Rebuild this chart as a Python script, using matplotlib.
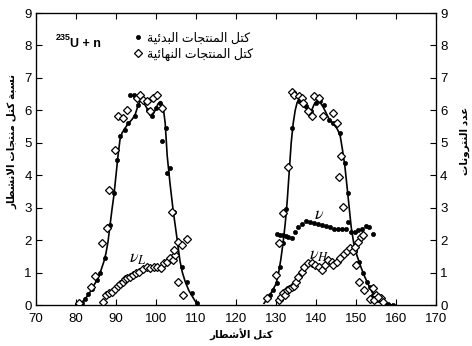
import matplotlib
matplotlib.use("Agg")
import matplotlib.pyplot as plt

plt.rcParams['font.family'] = ['Liberation Sans', 'DejaVu Sans']

# ---------------- data ----------------
# light fragment: primary (pre-neutron) masses, filled dots
x_pl = [80.2, 81.4, 82.25, 83.1, 83.9, 85.2, 86.0, 87.25, 88.5, 89.6, 90.3, 91.0, 92.25, 93.1,
        93.4, 94.5, 94.75, 95.6, 96.8, 98.1, 98.9, 100.1, 101.0, 101.8, 101.4, 102.4, 102.7,
        103.5, 104.6, 105.6, 106.6, 107.7, 108.9, 110.2]
y_pl = [0.0, 0.05, 0.2, 0.33, 0.49, 0.77, 0.98, 1.44, 2.47, 3.45, 4.48, 5.2, 5.4, 5.6,
        6.48, 6.48, 5.81, 6.17, 6.33, 6.02, 5.81, 6.07, 6.22, 6.07, 5.04, 5.45, 4.06,
        4.22, 2.88, 1.95, 1.18, 0.72, 0.36, 0.05]
# light fragment: final (post-neutron) masses, open diamonds
x_fl = [80.8, 83.7, 84.75, 86.6, 87.7, 88.3, 89.75, 90.6, 91.8, 92.7, 95.2, 96.0, 96.8, 97.7,
        98.5, 99.3, 100.3, 101.4, 103.9, 105.6, 106.6, 107.7, 105.6, 106.8]
y_fl = [0.05, 0.55, 0.9, 1.9, 2.37, 3.55, 4.78, 5.81, 5.76, 6.02, 6.38, 6.48, 6.33, 6.28,
        5.97, 6.38, 6.46, 6.07, 2.86, 1.95, 1.85, 2.04, 0.72, 0.31]
# nu_L, open diamonds
x_vl = [86.7, 87.5, 88.2, 88.9, 89.75, 90.6, 91.0, 91.7, 92.25, 92.8, 93.5, 94.3, 94.9, 95.75,
        96.8, 97.7, 98.5, 99.6, 100.3, 101.25, 102.1, 102.7, 103.5, 104.2, 104.75, 104.6]
y_vl = [0.08, 0.3, 0.36, 0.41, 0.49, 0.58, 0.65, 0.72, 0.8, 0.84, 0.87, 0.93, 0.98, 1.03,
        1.11, 1.18, 1.15, 1.18, 1.18, 1.15, 1.29, 1.34, 1.44, 1.39, 1.54, 1.7]
# light fitted curve
xc_l = [80.0, 81, 82, 83, 84, 85, 86, 87, 87.5, 88, 88.5, 89, 89.5, 90, 90.5, 91, 91.5, 92.25,
        93, 94, 94.75, 95.5, 96.2, 97, 97.8, 98.5, 99, 99.8, 100.5, 101.2, 101.8, 102.3, 102.8,
        103.5, 104.3, 105.2, 106, 106.6, 107.3, 108.2, 109, 110.2, 110.5]
yc_l = [0.0, 0.04, 0.15, 0.3, 0.5, 0.72, 0.98, 1.35, 1.6, 1.95, 2.45, 2.95, 3.4, 4.0, 4.6, 5.1,
        5.3, 5.45, 5.58, 5.72, 5.85, 6.15, 6.33, 6.22, 6.05, 5.85, 5.82, 6.0, 6.2, 6.27, 6.1,
        5.6, 4.6, 3.75, 2.9, 2.1, 1.35, 1.0, 0.72, 0.45, 0.28, 0.04, 0.0]

# heavy fragment: primary masses, filled dots
x_pr = [127.7, 128.5, 129.3, 130.2, 131.0, 131.8, 132.6, 134.1, 135.8, 137.5, 138.75, 140.0,
        141.0, 142.1, 143.3, 144.3, 146.0, 147.25, 148.1, 149.75, 150.8, 151.8, 152.7, 153.5,
        154.3, 155.6, 156.8, 158.1, 159.3]
y_pr = [0.2, 0.31, 0.46, 0.67, 1.18, 1.9, 2.95, 5.45, 6.28, 6.12, 5.97, 6.22, 6.3, 6.17, 5.71,
        5.6, 5.3, 4.37, 3.45, 1.65, 1.34, 0.98, 0.72, 0.57, 0.31, 0.15, 0.05, 0.02, 0.0]
# heavy fragment: final masses, open diamonds
x_fr = [127.7, 130.0, 130.7, 131.8, 132.9, 133.9, 134.5, 135.7, 136.5, 136.8, 138.1, 139.0,
        139.6, 140.8, 141.7, 144.2, 145.2, 146.25, 145.8, 146.7, 150.0, 150.8, 152.1, 154.2,
        155.0, 156.25, 153.5, 154.6, 155.6, 156.8]
y_fr = [0.21, 0.93, 1.9, 2.85, 4.25, 6.58, 6.48, 6.43, 6.38, 6.22, 5.97, 5.81, 6.45, 6.38,
        5.81, 5.92, 5.61, 4.58, 3.96, 3.03, 1.23, 0.72, 0.46, 0.51, 0.31, 0.21, 0.2, 0.15,
        0.25, 0.1]
# nu (total), filled dots
x_nu = [130.3, 131.0, 131.7, 132.4, 133.1, 133.9, 134.7, 135.6, 136.5, 137.5, 138.6, 139.6,
        140.6, 141.6, 142.6, 143.6, 144.5, 145.4, 146.4, 147.4, 148.1, 148.8, 149.75, 150.6,
        151.4, 152.4, 153.3, 154.3]
y_nu = [2.2, 2.17, 2.15, 2.12, 2.1, 2.07, 2.25, 2.4, 2.5, 2.6, 2.57, 2.54, 2.5, 2.47, 2.45,
        2.4, 2.35, 2.33, 2.33, 2.33, 2.57, 2.26, 2.26, 2.31, 2.35, 2.42, 2.39, 2.18]
# nu_H, open diamonds
x_vh = [130.8, 131.3, 131.8, 132.3, 132.8, 133.3, 133.9, 134.4, 135.0, 135.6, 136.4, 137.1,
        138.1, 138.9, 139.75, 140.75, 141.6, 142.25, 143.1, 143.9, 144.3, 145.2, 146.0, 147.0,
        147.8, 148.5, 149.2, 149.75, 150.6, 151.2, 151.8]
y_vh = [0.15, 0.26, 0.36, 0.31, 0.45, 0.5, 0.55, 0.6, 0.72, 0.87, 1.03, 1.18, 1.29, 1.29,
        1.23, 1.18, 1.08, 1.23, 1.39, 1.34, 1.23, 1.34, 1.44, 1.56, 1.67, 1.75, 1.65, 1.8,
        1.95, 2.11, 2.16]
# heavy fitted curve
xc_h = [127.0, 128, 129, 130, 130.6, 131.2, 131.8, 132.3, 132.8, 133.3, 133.8, 134.3, 134.8,
        135.3, 135.8, 136.5, 137.3, 138.2, 138.9, 139.6, 140.3, 141, 141.8, 142.6, 143.4, 144.3,
        145.2, 146, 146.6, 147.2, 147.8, 148.3, 148.8, 149.5, 150.3, 151.2, 152, 153, 154, 155,
        156, 157.5, 159]
yc_h = [0.05, 0.22, 0.42, 0.65, 0.95, 1.4, 1.95, 2.5, 3.2, 4.1, 5.0, 5.6, 6.0, 6.25, 6.3, 6.25,
        6.08, 5.98, 6.0, 6.2, 6.3, 6.25, 6.1, 5.9, 5.7, 5.58, 5.45, 5.25, 4.8, 4.3, 3.6, 3.0,
        2.4, 1.85, 1.5, 1.18, 0.92, 0.65, 0.4, 0.22, 0.12, 0.04, 0.0]

x_ticks = [70, 80, 90, 100, 110, 120, 130, 140, 150, 160, 170]
y_ticks = [0, 1, 2, 3, 4, 5, 6, 7, 8, 9]

# ---------------- Arabic shaping (presentation forms, visual order) ----------------
FORMS = {
    '\u0627': ('\uFE8D', '\uFE8E', None, None),
    '\u0623': ('\uFE83', '\uFE84', None, None),
    '\u0628': ('\uFE8F', '\uFE90', '\uFE91', '\uFE92'),
    '\u0629': ('\uFE93', '\uFE94', None, None),
    '\u062A': ('\uFE95', '\uFE96', '\uFE97', '\uFE98'),
    '\u062C': ('\uFE9D', '\uFE9E', '\uFE9F', '\uFEA0'),
    '\u062F': ('\uFEA9', '\uFEAA', None, None),
    '\u0631': ('\uFEAD', '\uFEAE', None, None),
    '\u0633': ('\uFEB1', '\uFEB2', '\uFEB3', '\uFEB4'),
    '\u0634': ('\uFEB5', '\uFEB6', '\uFEB7', '\uFEB8'),
    '\u0637': ('\uFEC1', '\uFEC2', '\uFEC3', '\uFEC4'),
    '\u0639': ('\uFEC9', '\uFECA', '\uFECB', '\uFECC'),
    '\u0643': ('\uFED9', '\uFEDA', '\uFEDB', '\uFEDC'),
    '\u0644': ('\uFEDD', '\uFEDE', '\uFEDF', '\uFEE0'),
    '\u0645': ('\uFEE1', '\uFEE2', '\uFEE3', '\uFEE4'),
    '\u0646': ('\uFEE5', '\uFEE6', '\uFEE7', '\uFEE8'),
    '\u0647': ('\uFEE9', '\uFEEA', '\uFEEB', '\uFEEC'),
    '\u0648': ('\uFEED', '\uFEEE', None, None),
    '\u064A': ('\uFEF1', '\uFEF2', '\uFEF3', '\uFEF4'),
    '\u0626': ('\uFE89', '\uFE8A', '\uFE8B', '\uFE8C'),
}
LAM_ALEF = {'\u0627': ('\uFEFB', '\uFEFC', None, None),
            '\u0623': ('\uFEF7', '\uFEF8', None, None)}


def ar(text):
    tokens = []
    i = 0
    while i < len(text):
        c = text[i]
        if c == '\u0644' and i + 1 < len(text) and text[i + 1] in LAM_ALEF:
            tokens.append(LAM_ALEF[text[i + 1]])
            i += 2
        elif c in FORMS:
            tokens.append(FORMS[c])
            i += 1
        else:
            tokens.append(c)
            i += 1
    out = []
    for j, t in enumerate(tokens):
        if isinstance(t, str):
            out.append(t)
            continue
        prev = tokens[j - 1] if j > 0 else None
        nxt = tokens[j + 1] if j + 1 < len(tokens) else None
        jp = prev is not None and not isinstance(prev, str) and prev[2] is not None
        jn = nxt is not None and not isinstance(nxt, str) and t[2] is not None
        if jp and jn:
            out.append(t[3])
        elif jp:
            out.append(t[1])
        elif jn:
            out.append(t[2])
        else:
            out.append(t[0])
    return ''.join(reversed(out))


lbl_primary = "كتل المنتجات البدئية"
lbl_final = "كتل المنتجات النهائية"
lbl_x = "كتل الأشطار"
lbl_yl = "نسبة كتل منتجات الانشطار"
lbl_yr = "عدد النترونات"

# ---------------- figure ----------------
fig = plt.figure(figsize=(4.72, 3.46), dpi=100)
ax = fig.add_axes([36 / 472, 41 / 346, 400 / 472, 292 / 346])

dot = dict(ls='none', marker='o', ms=3.0, mfc='black', mec='black', mew=0.5)
dia = dict(ls='none', marker='D', ms=3.6, mfc='white', mec='black', mew=0.9)

ax.plot(xc_l, yc_l, color='black', lw=1.2, zorder=2)
ax.plot(xc_h, yc_h, color='black', lw=1.2, zorder=2)
h1, = ax.plot(x_pl, y_pl, zorder=3, **dot)
ax.plot(x_pr, y_pr, zorder=3, **dot)
ax.plot(x_nu, y_nu, zorder=3, **dot)
h2, = ax.plot(x_fl, y_fl, zorder=4, **dia)
ax.plot(x_fr, y_fr, zorder=4, **dia)
ax.plot(x_vl, y_vl, zorder=4, **dia)
ax.plot(x_vh, y_vh, zorder=4, **dia)

ax.set_xlim(70, 170)
ax.set_ylim(0, 9)
ax.set_xticks(x_ticks)
ax.set_yticks(y_ticks)
ax.tick_params(axis='both', direction='in', length=4, width=0.8, labelsize=9.5,
               top=True, right=False)
ax.tick_params(axis='x', pad=6)
ax.tick_params(axis='y', pad=3)
for s in ax.spines.values():
    s.set_linewidth(0.9)

ax2 = ax.twinx()
ax2.set_ylim(0, 9)
ax2.set_yticks(y_ticks)
ax2.tick_params(direction='in', length=4, width=0.8, labelsize=9.5, pad=3)

# labels
fig.text(241.5 / 472, 1 - 335 / 346, ar(lbl_x), ha='center', va='center', fontsize=7.5,
         fontweight='bold')
fig.text(12.5 / 472, 1 - 141 / 346, ar(lbl_yl), ha='center', va='center', rotation=90,
         fontsize=7.5, fontweight='bold')
fig.text(465 / 472, 1 - 141 / 346, ar(lbl_yr), ha='center', va='center', rotation=90,
         fontsize=7.5, fontweight='bold')

# annotations
ax.text(93.3, 1.3, r'$\nu_L$', fontsize=13, math_fontfamily='stix')
ax.text(139.4, 2.65, r'$\nu$', fontsize=13, math_fontfamily='stix')
ax.text(138.2, 1.4, r'$\nu_H$', fontsize=13, math_fontfamily='stix')

ax.text(74.9, 8.25, '235', fontsize=6.5, fontweight='bold', va='center')
ax.text(78.5, 8.05, 'U + n', fontsize=9, fontweight='bold', va='center')

leg = ax.legend([h1, h2], [ar(lbl_primary), ar(lbl_final)], loc='upper left',
                bbox_to_anchor=(0.237, 0.942), frameon=False, fontsize=9,
                handlelength=0.8, handletextpad=0.3, labelspacing=0.25, borderpad=0.2,
                borderaxespad=0.0)

fig.savefig('out.png', dpi=100)
